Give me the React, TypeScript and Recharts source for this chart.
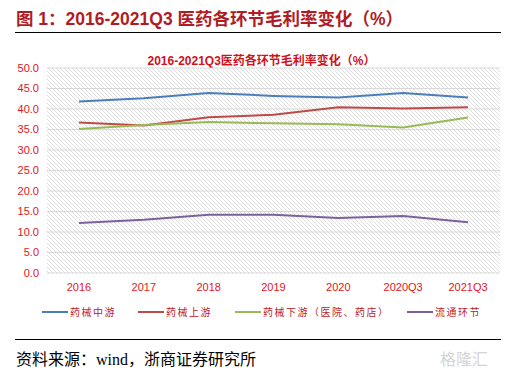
import React from "react";
import { LineChart, Line, XAxis, YAxis, CartesianGrid } from "recharts";

const categories = ["2016", "2017", "2018", "2019", "2020", "2020Q3", "2021Q3"];
const midstream = [41.8, 42.6, 43.9, 43.2, 42.8, 43.9, 42.8];
const upstream = [36.7, 36.0, 38.0, 38.6, 40.4, 40.1, 40.4];
const downstream = [35.1, 36.1, 36.8, 36.5, 36.3, 35.5, 37.9];
const circulation = [12.2, 13.0, 14.2, 14.2, 13.4, 13.9, 12.4];
const yTicks = [0, 5, 10, 15, 20, 25, 30, 35, 40, 45, 50];

const seriesNames = ["药械中游", "药械上游", "药械下游（医院、药店）", "流通环节"];
const colors = ["#4a7ebb", "#be4b48", "#98b954", "#7d60a0"];

const data = categories.map((c, i) => ({
  name: c,
  s0: midstream[i],
  s1: upstream[i],
  s2: downstream[i],
  s3: circulation[i],
}));

const RED = "#e3141b";

const LegendBlock = () => {
  const xs = [42, 138, 235, 407];
  return (
    <div style={{ position: "absolute", left: 0, top: 304, width: 513, height: 16 }}>
      {seriesNames.map((n, i) => (
        <div key={n} style={{ position: "absolute", left: xs[i], top: 0, display: "flex", alignItems: "center", whiteSpace: "nowrap" }}>
          <div style={{ width: 26, height: 2, background: colors[i], marginRight: 2 }} />
          <span style={{ fontFamily: "'Noto Sans CJK SC'", fontSize: 10, color: "#c0202a", letterSpacing: 1.5 }}>{n}</span>
        </div>
      ))}
    </div>
  );
};

export default function App() {
  return (
    <div style={{ position: "absolute", left: 0, top: 0, width: 513, height: 372, background: "#fff", overflow: "hidden" }}>
      <svg width="0" height="0" style={{ position: "absolute" }}>
        <defs>
          <pattern id="hatch" width="4" height="4" patternUnits="userSpaceOnUse">
            <rect width="4" height="4" fill="#ffffff" />
            <path d="M-1,3 l2,2 M0,0 l4,4 M3,-1 l2,2" stroke="#dedede" strokeWidth="1" />
          </pattern>
        </defs>
      </svg>
      <div style={{ position: "absolute", left: 16, top: 5, fontFamily: "Arial, 'Noto Sans CJK SC'", fontWeight: "bold", fontSize: 17.5, color: "#b01c24", whiteSpace: "nowrap" }}>
        图 1：2016-2021Q3 医药各环节毛利率变化（%）
      </div>
      <div style={{ position: "absolute", left: 15, top: 32, width: 486, height: 1, background: "#000" }} />
      <div style={{ position: "absolute", left: 0, width: 513, top: 51, textAlign: "center", fontFamily: "Arial, 'Noto Sans CJK SC'", fontWeight: "bold", fontSize: 12, color: "#d0121b", whiteSpace: "nowrap" }}>
        <span style={{ marginLeft: 10 }}>2016-2021Q3医药各环节毛利率变化（%）</span>
      </div>
      <div style={{ position: "absolute", left: 0, top: 0 }}>
        <LineChart width={513} height={372} data={data} margin={{ top: 68, right: 13, bottom: 69, left: 7 }}>
          <CartesianGrid vertical={false} stroke="#d9d9d9" fill="url(#hatch)" />
          <XAxis
            dataKey="name"
            height={30}
            axisLine={false}
            tickLine={false}
            interval={0}
            padding={{ left: 32, right: 32 }}
            tick={{ fill: RED, fontSize: 11, fontFamily: "Arial" }}
            dy={2}
          />
          <YAxis
            width={40}
            domain={[0, 50]}
            ticks={yTicks}
            interval={0}
            axisLine={false}
            tickLine={false}
            tickFormatter={(v: number) => v.toFixed(1)}
            tick={{ fill: RED, fontSize: 11, fontFamily: "Arial" }}
          />
          {["s0", "s1", "s2", "s3"].map((k, i) => (
            <Line key={k} dataKey={k} name={seriesNames[i]} stroke={colors[i]} strokeWidth={2} dot={false} isAnimationActive={false} />
          ))}
        </LineChart>
      </div>
      <LegendBlock />
      <div style={{ position: "absolute", left: 15, top: 339, width: 486, height: 1, background: "#000" }} />
      <div style={{ position: "absolute", left: 16, top: 346, fontFamily: "'Liberation Serif', 'Noto Sans CJK SC', serif", fontSize: 16, color: "#000", whiteSpace: "nowrap" }}>
        资料来源：wind，浙商证券研究所
      </div>
      <div style={{ position: "absolute", left: 440, top: 346, fontFamily: "'Noto Sans CJK SC'", fontSize: 16, color: "#d4d4d4", whiteSpace: "nowrap" }}>
        格隆汇
      </div>
    </div>
  );
}
